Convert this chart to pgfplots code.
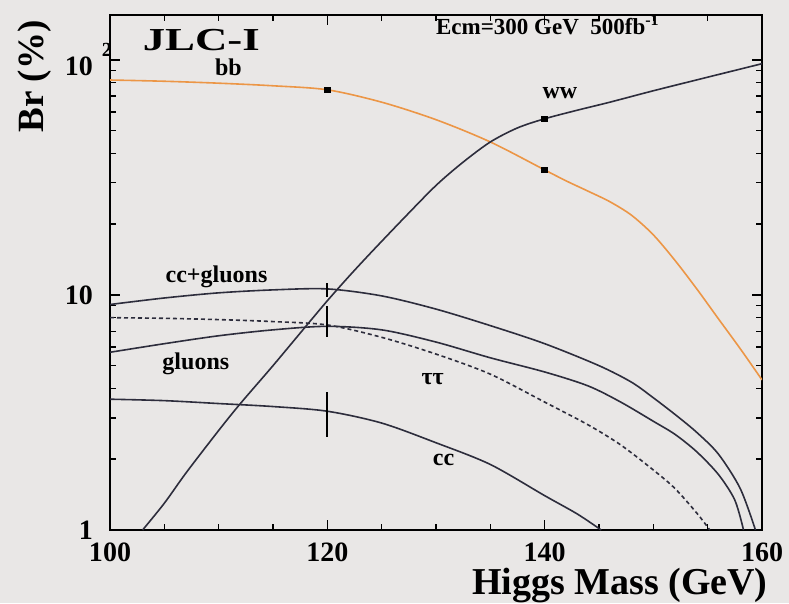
\documentclass[border=0pt]{standalone}
\usepackage{pgfplots}
\pgfplotsset{compat=1.18}
\usepackage{fontspec}
\setmainfont{Liberation Serif}
\usetikzlibrary{backgrounds}
\definecolor{paper}{RGB}{233,231,230}
\definecolor{curve}{RGB}{45,45,60}
\definecolor{bbcol}{RGB}{236,150,70}

\begin{document}
\begin{tikzpicture}
\begin{axis}[
  scale only axis, width=326pt, height=257.5pt,
  ymode=log, xmin=100, xmax=160, ymin=1, ymax=155,
  xtick={100,120,140,160}, minor x tick num=3,
  ytick={1,10,100},
  yticklabels={1,10,10\rlap{\hspace{4.5pt}\raisebox{9.5pt}{\fontsize{10}{10}\selectfont 2}}},
  minor ytick={2,3,4,5,6,7,8,9,20,30,40,50,60,70,80,90},
  tick align=inside, major tick length=5pt, minor tick length=3pt,
  axis line style={line width=1.4pt},
  tick style={line width=0.8pt, black},
  every tick label/.append style={font=\fontsize{14}{16}\selectfont\bfseries},
  yticklabel style={xshift=-5pt},
  xticklabel style={yshift=-3pt},
  /pgf/number format/assume math mode=true,
  clip mode=individual,
  every axis plot/.append style={line width=0.8pt},
]
% branching ratios (%) versus Higgs mass (GeV)
% b bbar
\addplot[bbcol, smooth, tension=0.5] coordinates {
  (100,82)(105,81)(110,79.5)(115,77.5)(120,74.5)(125,66)(130,55.6)(135,44.7)
  (140,34)(142,30.5)(144,27.6)(146,24.9)(148,21.8)(150,18.0)(152,14.0)(154,10.6)
  (156,7.9)(158,5.9)(160,4.35)};
% W W*
\addplot[curve, smooth, tension=0.5] coordinates {
  (103,1.0)(105,1.3)(107,1.75)(110,2.65)(112,3.45)(115,5.0)(118,7.33)(120,9.44)
  (122,12.0)(124,15.1)(127,21.1)(130,29.2)(132.5,36.7)(135,44.7)(137.5,51.3)
  (140,56.1)(143,61)(146,66)(150,73.8)(155,84.3)(160,96.2)};
% c cbar + gluons
\addplot[curve, smooth, tension=0.5] coordinates {
  (100,9.1)(105,9.7)(110,10.2)(115,10.5)(120,10.6)(125,9.9)(130,8.7)(135,7.4)
  (140,6.2)(145,5.0)(148,4.25)(150,3.65)(152,3.1)(154,2.6)(156,2.1)(158,1.5)(159.4,1.0)};
% gluons
\addplot[curve, smooth, tension=0.5] coordinates {
  (100,5.7)(105,6.2)(110,6.7)(115,7.1)(120,7.35)(125,7.1)(130,6.3)(135,5.4)
  (140,4.7)(144,4.1)(147,3.5)(150,2.9)(152,2.55)(154,2.15)(156,1.72)(157.5,1.34)(158.3,1.0)};
% tau tau
\addplot[curve, smooth, tension=0.5, dash pattern=on 2pt off 1.5pt] coordinates {
  (100,8.0)(105,7.95)(110,7.85)(115,7.7)(120,7.45)(125,6.6)(130,5.6)(135,4.6)
  (140,3.5)(144,2.8)(147,2.3)(150,1.8)(152,1.5)(154,1.18)(155.2,1.0)};
% c cbar
\addplot[curve, smooth, tension=0.5] coordinates {
  (100,3.6)(105,3.55)(110,3.45)(115,3.35)(120,3.2)(125,2.85)(130,2.35)(135,1.9)
  (140,1.4)(143,1.17)(145.2,1.0)};

% measured points with their errors at 120 GeV
\addplot[draw=none, error bars/.cd, y dir=both, y explicit,
  error mark=none, error bar style={line width=1.1pt, black}] coordinates {
  (120,10.6) += (0,0.6) -= (0,0.8)
  (120,7.35) += (0,1.65) -= (0,0.75)
  (120,3.2) += (0,0.67) -= (0,0.71)};
\addplot[only marks, mark=square*, mark size=1.2pt, black] coordinates {
  (120,74.5)(140,34)(140,56.1)};

\node[font=\fontsize{12}{14}\selectfont\bfseries] at (axis cs:110.9,92.5) {bb};
\node[font=\fontsize{12}{14}\selectfont\bfseries] at (axis cs:141.4,72.4) {ww};
\node[font=\fontsize{12}{14}\selectfont\bfseries] at (axis cs:109.8,11.9) {cc+gluons};
\node[font=\fontsize{12}{14}\selectfont\bfseries] at (axis cs:107.9,5.09) {gluons};
\node[font=\fontsize{12}{14}\selectfont\bfseries] at (axis cs:129.7,4.39) {ττ};
\node[font=\fontsize{12}{14}\selectfont\bfseries] at (axis cs:130.7,1.99) {cc};
\node[font=\fontsize{16}{18}\selectfont\bfseries, xscale=1.4] at (axis cs:108.4,121) {JLC-I};
\node[font=\fontsize{11.5}{13}\selectfont\bfseries] at (axis cs:140.3,141) {Ecm=300 GeV\ \ 500fb\textsuperscript{-1}};

\coordinate (TL) at (rel axis cs:0,1);
\coordinate (BR) at (rel axis cs:1,0);
\end{axis}

\node[anchor=north east, inner sep=0pt, font=\fontsize{19}{22}\selectfont\bfseries]
  at ([shift={(3pt,-19pt)}]BR) {Higgs Mass (GeV)};
\node[anchor=east, rotate=90, inner sep=0pt, font=\fontsize{18.5}{21}\selectfont\bfseries]
  at ([shift={(-37.5pt,-2.5pt)}]TL) {Br (\%)};

\begin{scope}[on background layer]
  \fill[paper] ([shift={(-55pt,7.5pt)}]TL) rectangle ([shift={(13.5pt,-36.5pt)}]BR);
\end{scope}
\pgfresetboundingbox
\path[use as bounding box] ([shift={(-55pt,7.5pt)}]TL) rectangle ([shift={(13.5pt,-36.5pt)}]BR);
\end{tikzpicture}
\end{document}
